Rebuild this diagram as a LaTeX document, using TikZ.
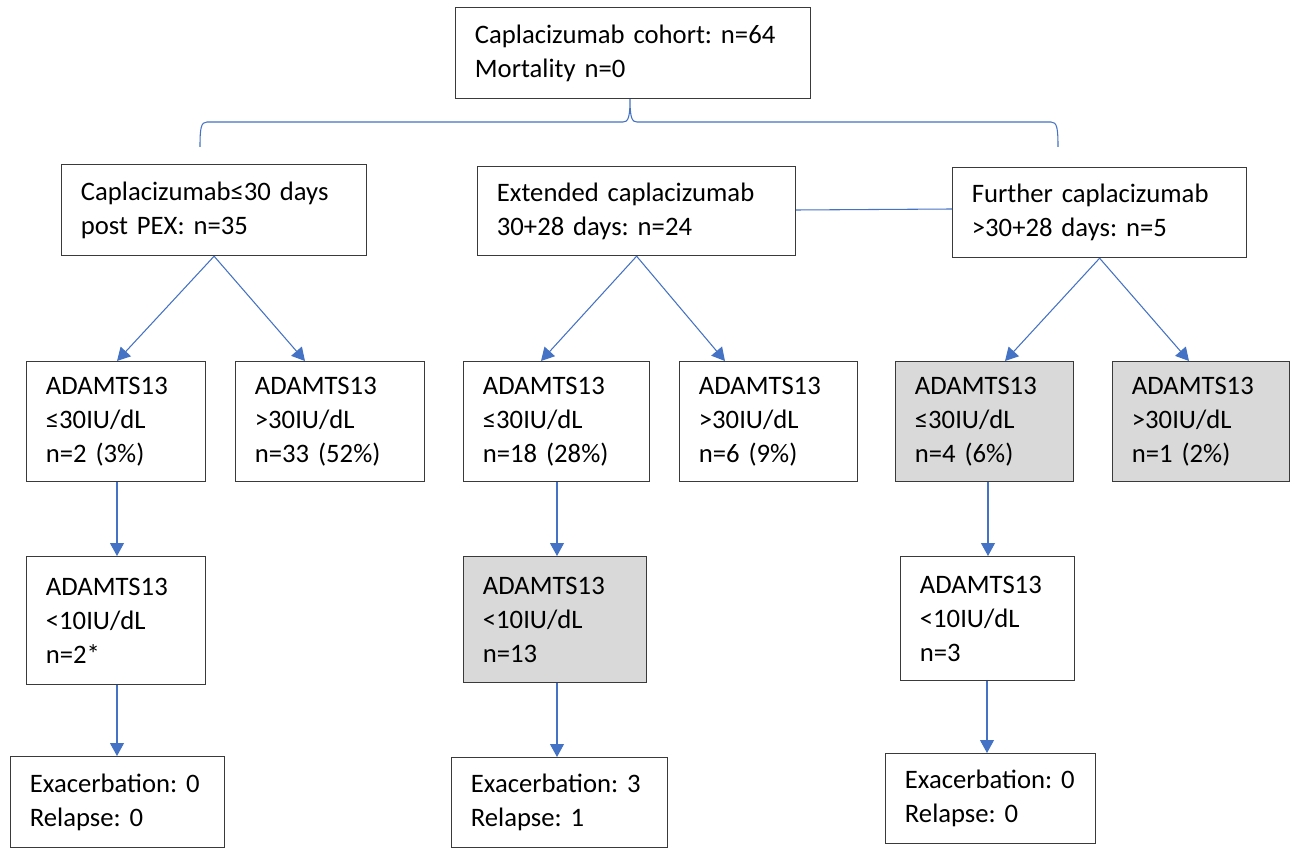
\documentclass[tikz,border=0pt]{standalone}
\usepackage{fontspec}
\setmainfont{Carlito}
\frenchspacing
\usetikzlibrary{arrows.meta,calc}
\definecolor{lineblue}{HTML}{4472C4}
\definecolor{boxgray}{HTML}{D9D9D9}
\definecolor{boxline}{HTML}{3A3A3A}
\begin{document}
\begin{tikzpicture}[x=0.75pt,y=-0.75pt,
  box/.style={draw=boxline,line width=0.9pt,fill=white,rectangle,inner xsep=14.5pt,inner ysep=0pt,
    align=left,font=\fontsize{20}{25.5}\selectfont\frenchspacing,anchor=north west},
  graybox/.style={box,fill=boxgray},
  conn/.style={draw=lineblue,line width=0.8pt},
  arr/.style={conn,-{Triangle[length=9.75pt,width=10.5pt]}}]
\useasboundingbox (0,0) rectangle (1292,848);
% boxes: (left,top), width, height in px
\newcommand{\mkbox}[7]{\node[#1,minimum width=#4*0.75pt,minimum height=#5*0.75pt,text width=#4*0.75pt-29pt] (#6) at (#2,#3) {#7};}
\mkbox{box}{455}{7}{355}{91}{top}{Caplacizumab cohort: n=64\\Mortality n=0}
\mkbox{box}{61}{164}{305}{91}{l1}{Caplacizumab≤30 days\\post PEX: n=35}
\mkbox{box}{477}{166}{318}{89}{m1}{Extended caplacizumab\\30+28 days: n=24}
\mkbox{box}{952}{167}{294}{90}{r1}{Further caplacizumab\\>30+28 days: n=5}
\mkbox{box}{26}{361}{179}{120}{a}{ADAMTS13\\≤30IU/dL\\n=2 (3\%)}
\mkbox{box}{235}{361}{189}{120}{b}{ADAMTS13\\>30IU/dL\\n=33 (52\%)}
\mkbox{box}{463}{361}{186}{120}{c}{ADAMTS13\\≤30IU/dL\\n=18 (28\%)}
\mkbox{box}{679}{361}{178}{120}{d}{ADAMTS13\\>30IU/dL\\n=6 (9\%)}
\mkbox{graybox}{895}{361}{178}{120}{e}{ADAMTS13\\≤30IU/dL\\n=4 (6\%)}
\mkbox{graybox}{1112}{361}{177}{120}{f}{ADAMTS13\\>30IU/dL\\n=1 (2\%)}
\mkbox{box}{26}{556}{179}{128}{g}{ADAMTS13\\<10IU/dL\\n=2*}
\mkbox{graybox}{463}{556}{183}{126}{h}{ADAMTS13\\<10IU/dL\\n=13}
\mkbox{box}{900}{556}{174}{124}{i}{ADAMTS13\\<10IU/dL\\n=3}
\mkbox{box}{10}{756}{214}{91}{j}{Exacerbation:~0\\Relapse:~0}
\mkbox{box}{451}{757}{216}{90}{k}{Exacerbation:~3\\Relapse:~1}
\mkbox{box}{885}{753}{210}{90}{l}{Exacerbation:~0\\Relapse:~0}
% brace under the top box
\coordinate (bl) at (200,147);
\coordinate (br) at (1058,147);
\draw[conn] (bl) .. controls (200,128) and (201,122) .. (207,122) -- (623,122)
  .. controls (628,122) and (630,118) .. (top.south -| 630,0)
  .. controls (630,118) and (632,122) .. (637,122) -- (1051,122)
  .. controls (1057,122) and (1058,128) .. (br);
% link between middle and right second-level boxes
\draw[conn] (m1.east |- 0,210) -- (r1.west |- 0,209);
% diagonal arrows
\draw[arr] (l1.south) -- (a.north -| 117,0);
\draw[arr] (l1.south) -- (b.north -| 305,0);
\draw[arr] (m1.south) -- (c.north -| 541,0);
\draw[arr] (m1.south) -- (d.north -| 725,0);
\draw[arr] (r1.south) -- (e.north -| 1005,0);
\draw[arr] (r1.south) -- (f.north -| 1189,0);
% vertical arrows
\draw[arr] (a.south -| 117,0) -- (g.north -| 117,0);
\draw[arr] (c.south -| 557,0) -- (h.north -| 557,0);
\draw[arr] (e.south -| 988,0) -- (i.north -| 988,0);
\draw[arr] (g.south -| 117,0) -- (j.north -| 117,0);
\draw[arr] (h.south -| 557,0) -- (k.north -| 557,0);
\draw[arr] (i.south -| 987,0) -- (l.north -| 987,0);
\end{tikzpicture}
\end{document}
